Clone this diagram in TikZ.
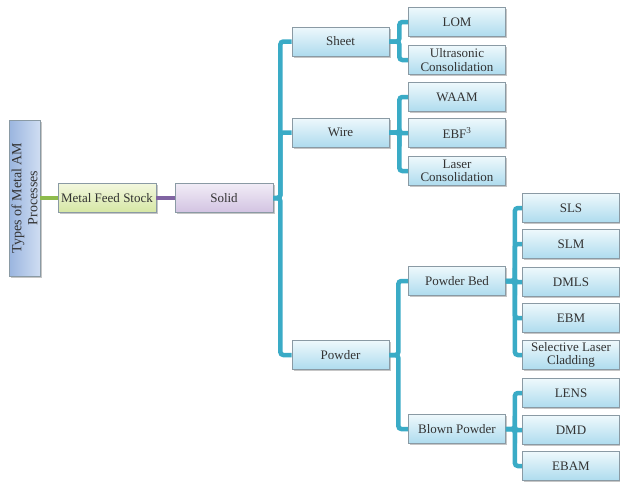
\documentclass[tikz,border=0pt]{standalone}
\usepackage{fontspec}
\setmainfont{Liberation Serif}
\usetikzlibrary{shadows}
\definecolor{linkblue}{HTML}{3AABC6}
\definecolor{boxedge}{HTML}{8A9AA4}
\definecolor{boxtop}{HTML}{EEF8FC}
\definecolor{boxbot}{HTML}{AEDBEE}
\definecolor{roottop}{HTML}{CFDDF2}
\definecolor{rootbot}{HTML}{9AB5DF}
\definecolor{feedtop}{HTML}{F2F7DE}
\definecolor{feedbot}{HTML}{D6E7A4}
\definecolor{solidtop}{HTML}{F1ECF6}
\definecolor{solidbot}{HTML}{D2C3E2}
\definecolor{feedlink}{HTML}{8EBB4C}
\definecolor{solidlink}{HTML}{8064A2}
\tikzset{
  box/.style={draw=boxedge,line width=0.7pt,top color=boxtop,bottom color=boxbot,
    minimum width=97pt,minimum height=29pt,inner sep=1pt,align=center,text=black!80,
    font=\fontsize{13}{13.5}\selectfont,drop shadow={shadow xshift=1.5pt,shadow yshift=-1.5pt,opacity=.45}},
  link/.style={linkblue,line width=4.5pt,rounded corners=3pt},
}

\begin{document}
\begin{tikzpicture}[x=1pt,y=-1pt]

\useasboundingbox (0,0) rectangle (620,483);

\node[box,rotate=90,minimum width=156pt,minimum height=31pt,right color=roottop,left color=rootbot,
  font=\fontsize{14}{16}\selectfont] (root) at (24.5,198) {Types of Metal AM\\Processes};
\node[box,minimum width=98pt,top color=feedtop,bottom color=feedbot] (feed) at (107,198) {Metal Feed Stock};
\node[box,minimum width=98pt,top color=solidtop,bottom color=solidbot] (solid) at (224,198) {Solid};

\node[box] (sheet) at (340.5,41.5) {Sheet};
\node[box] (wire) at (340.5,132.5) {Wire};
\node[box] (powder) at (340.5,355) {Powder};

\node[box] (lom) at (457,22) {LOM};
\node[box] (ultra) at (457,60) {Ultrasonic\\Consolidation};
\node[box] (waam) at (457,97) {WAAM};
\node[box] (ebf) at (457,133) {EBF\textsuperscript{3}};
\node[box] (laser) at (457,171) {Laser\\Consolidation};
\node[box] (pbed) at (457,281) {Powder Bed};
\node[box] (blown) at (457,429) {Blown Powder};

\node[box] (sls) at (571,208) {SLS};
\node[box] (slm) at (571,244) {SLM};
\node[box] (dmls) at (571,282) {DMLS};
\node[box] (ebm) at (571,318) {EBM};
\node[box] (slc) at (571,355) {Selective Laser\\Cladding};
\node[box] (lens) at (571,393) {LENS};
\node[box] (dmd) at (571,430) {DMD};
\node[box] (ebam) at (571,466) {EBAM};

\draw[link,feedlink] (root) -- (feed);
\draw[link,solidlink] (feed) -- (solid);

\foreach \c in {sheet,wire,powder} \draw[link] (solid.east) -- ++(7,0) |- (\c.west);
\foreach \c in {lom,ultra} \draw[link] (sheet.east) -- ++(10,0) |- (\c.west);
\foreach \c in {waam,ebf,laser} \draw[link] (wire.east) -- ++(10,0) |- (\c.west);
\foreach \c in {pbed,blown} \draw[link] (powder.east) -- ++(9,0) |- (\c.west);
\foreach \c in {sls,slm,dmls,ebm,slc} \draw[link] (pbed.east) -- ++(9,0) |- (\c.west);
\foreach \c in {lens,dmd,ebam} \draw[link] (blown.east) -- ++(9,0) |- (\c.west);

\end{tikzpicture}
\end{document}
